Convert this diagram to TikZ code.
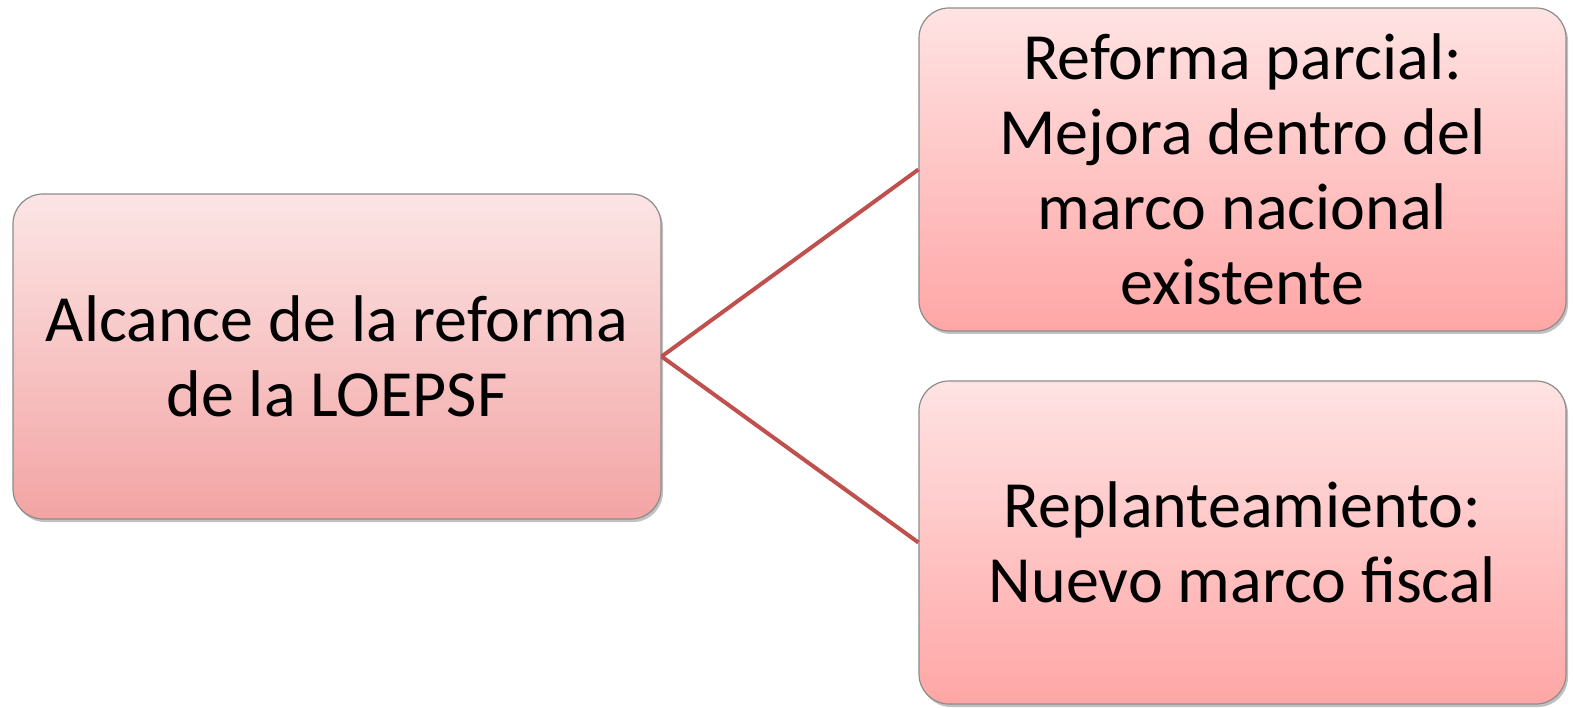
\documentclass[tikz,border=0pt]{standalone}
\usepackage{fontspec}
\setmainfont{Carlito}
\usetikzlibrary{shadows}
\begin{document}
\begin{tikzpicture}[x=1pt,y=-1pt,
  box/.style={rounded corners=30pt, draw=black!45, line width=1.2pt,
    drop shadow={shadow xshift=2pt, shadow yshift=-3pt, opacity=0.35, fill=black!70},
    align=center, font=\fontsize{66}{75}\selectfont, inner sep=0pt},
  lbox/.style={box, top color=lcTop, bottom color=lcBot},
  rbox/.style={box, top color=rcTop, bottom color=rcBot},
  link/.style={draw=lineRed, line width=4pt}]
\definecolor{lcTop}{HTML}{FCE5E5}
\definecolor{lcBot}{HTML}{F3A4A4}
\definecolor{rcTop}{HTML}{FFE3E3}
\definecolor{rcBot}{HTML}{FFA6A6}
\definecolor{lineRed}{HTML}{C0504D}
\useasboundingbox (0,0) rectangle (1573,708);
\node[lbox, minimum width=648pt, minimum height=325pt] (a) at (337,356.5) {Alcance de la reforma\\de la LOEPSF};
\node[rbox, minimum width=647pt, minimum height=323pt] (b) at (1242.5,169.5) {Reforma parcial:\\Mejora dentro del\\marco nacional\\existente};
\node[rbox, minimum width=647pt, minimum height=323pt] (c) at (1242.5,542.5) {Replanteamiento:\\Nuevo marco fiscal};
\draw[link] (a.east) -- (b.west);
\draw[link] (a.east) -- (c.west);
\end{tikzpicture}
\end{document}
